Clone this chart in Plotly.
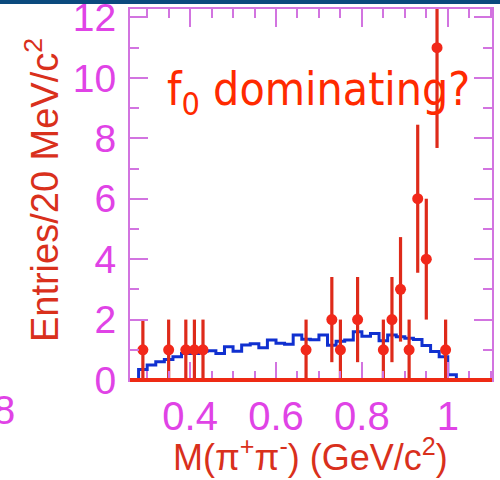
import plotly.graph_objects as go

# Measured pi+pi- invariant mass spectrum (20 MeV bins)
mass = [0.29, 0.35, 0.39, 0.41, 0.43, 0.67, 0.73, 0.75, 0.79,
        0.85, 0.87, 0.89, 0.91, 0.93, 0.95, 0.975, 0.995]
entries = [1, 1, 1, 1, 1, 1, 2, 1, 2,
           1, 2, 3, 1, 6, 4, 11, 1]
errors = [1.0, 1.0, 1.0, 1.0, 1.0, 1.0, 1.41, 1.0, 1.41,
          1.0, 1.41, 1.73, 1.0, 2.45, 2.0, 3.32, 1.0]

# Phase-space expectation histogram: lower bin edges and contents
ps_edges = [0.28, 0.30, 0.32, 0.34, 0.36, 0.38, 0.40, 0.42, 0.44, 0.46,
            0.48, 0.50, 0.52, 0.54, 0.56, 0.58, 0.60, 0.62, 0.64, 0.66,
            0.68, 0.70, 0.72, 0.74, 0.76, 0.78, 0.80, 0.82, 0.84, 0.86,
            0.88, 0.90, 0.92, 0.94, 0.96, 0.98, 1.00, 1.02]
ps_counts = [0.35, 0.50, 0.60, 0.68, 0.77, 0.88, 0.88, 0.95, 0.97, 0.88,
             1.10, 0.95, 1.16, 1.20, 1.07, 1.32, 1.22, 1.18, 1.49, 1.35,
             1.33, 1.49, 1.15, 1.28, 1.32, 1.60, 1.45, 1.54, 1.30, 1.49,
             1.43, 1.38, 1.34, 1.14, 0.94, 0.77, 0.17]

x_ticks = [0.4, 0.6, 0.8, 1.0]
x_tick_text = ["0.4", "0.6", "0.8", "1"]
y_ticks = [0, 2, 4, 6, 8, 10, 12]
y_tick_text = ["0", "2", "4", "6", "8", "10", "12"]

PINK_LINE = "#d274e0"
PINK_TEXT = "#e043e6"
RED_TITLE = "#d9301c"
RED_MARK = "#f2281a"
SANS = "Liberation Sans, Arial, sans-serif"

fig = go.Figure()

# step outline of the phase-space histogram
step_x = [ps_edges[0]] + ps_edges
step_y = [0] + ps_counts + [0]
fig.add_trace(go.Scatter(
    x=step_x, y=step_y, mode="lines",
    line=dict(color="#1030d0", width=3, shape="hv"),
    hoverinfo="skip",
))

# data points with statistical errors
fig.add_trace(go.Scatter(
    x=mass, y=entries, mode="markers",
    marker=dict(color=RED_MARK, size=11, symbol="circle"),
    error_y=dict(type="data", array=errors, color="#de2a1a",
                 thickness=3.2, width=0),
))

axis_common = dict(
    showline=True, linecolor=PINK_LINE, linewidth=2, mirror="ticks",
    ticks="inside", tickcolor=PINK_LINE, tickwidth=2, ticklen=18,
    showgrid=False, zeroline=False, ticklabeloverflow="allow",
    automargin=False,
)

fig.update_xaxes(
    range=[0.26, 1.103], tickvals=x_ticks, ticktext=x_tick_text,
    tickfont=dict(family=SANS, size=40, color=PINK_TEXT),
    minor=dict(dtick=0.05, tick0=0, ticks="inside", ticklen=9,
               tickcolor=PINK_LINE, tickwidth=2, showgrid=False),
    **axis_common,
)
fig.update_yaxes(
    range=[0, 12.28], tickvals=y_ticks, ticktext=y_tick_text,
    tickfont=dict(family=SANS, size=39, color=PINK_TEXT),
    ticklabelstandoff=4,
    minor=dict(dtick=1, tick0=0, ticks="inside", ticklen=9,
               tickcolor=PINK_LINE, tickwidth=2, showgrid=False),
    **axis_common,
)

fig.update_layout(
    width=500, height=480,
    margin=dict(l=129.5, r=8, t=9, b=100, autoexpand=False),
    paper_bgcolor="white", plot_bgcolor="white",
    showlegend=False,
    shapes=[
        # zero-entry baseline drawn over the lower frame
        dict(type="line", xref="paper", yref="paper", x0=0, x1=1,
             y0=0, y1=0, line=dict(color="#ee2a14", width=4)),
        # header band of the page
        dict(type="rect", xref="paper", yref="paper", x0=-0.36, x1=1.03,
             y0=1.0135, y1=1.03, line=dict(width=0), fillcolor="#0b4a7e"),
    ],
    annotations=[
        dict(text="f<sub>0</sub> dominating?", xref="paper", yref="paper",
             x=0.098, y=0.774, xanchor="left", yanchor="middle",
             showarrow=False,
             font=dict(family="DejaVu Sans Condensed, DejaVu Sans, sans-serif",
                       size=46, color="#ff2a00")),
        dict(text="Entries/20 MeV/c<sup>2</sup>", xref="paper", yref="paper",
             x=-0.243, y=0.512, xanchor="center", yanchor="middle",
             textangle=-90, showarrow=False,
             font=dict(family=SANS, size=38, color=RED_TITLE)),
        dict(text="M(π<sup>+</sup>π<sup>-</sup>) (GeV/c<sup>2</sup>)",
             xref="paper", yref="paper", x=0.498, y=-0.203,
             xanchor="center", yanchor="middle", showarrow=False,
             font=dict(family=SANS, size=36, color=RED_TITLE)),
        dict(text="8", xref="paper", yref="paper", x=-0.313, y=-0.081,
             xanchor="right", yanchor="middle", showarrow=False,
             font=dict(family=SANS, size=40, color=PINK_TEXT)),
    ],
)

fig.write_html("out.html")
